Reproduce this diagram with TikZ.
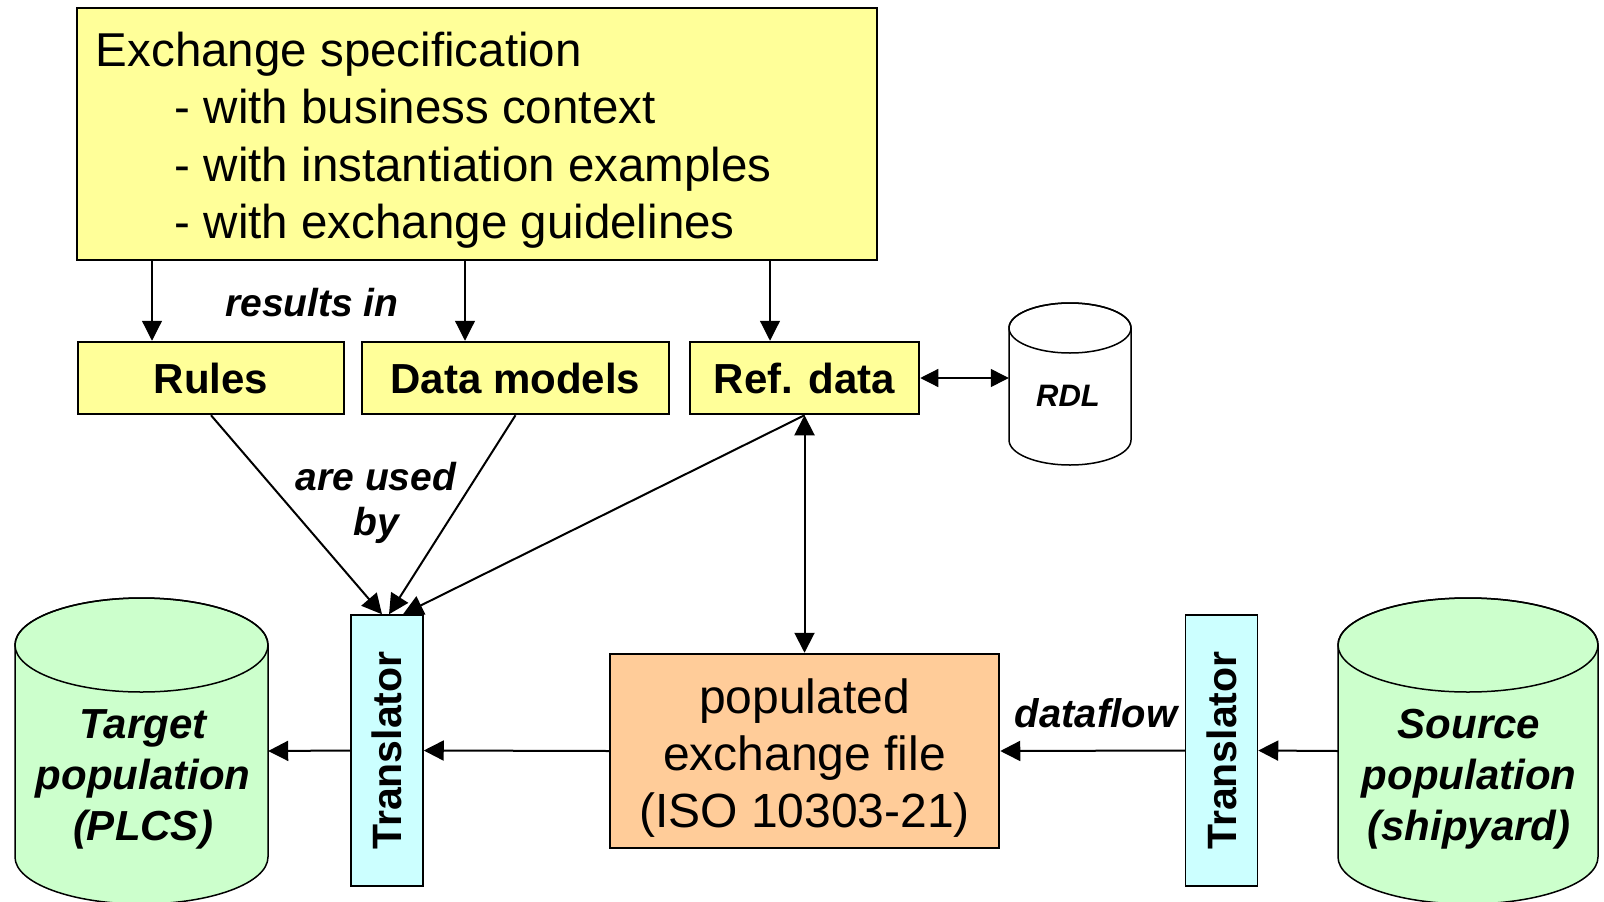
\documentclass[tikz,border=0pt]{standalone}
\usepackage{fontspec}
\setmainfont{Liberation Sans}
\usetikzlibrary{arrows.meta,calc}

\definecolor{specyellow}{HTML}{FFFF99}
\definecolor{transcyan}{HTML}{CCFFFF}
\definecolor{popgreen}{HTML}{CCFFCC}
\definecolor{fileorange}{HTML}{FFCC99}

\newcommand{\fsz}[2]{\fontsize{#1}{#2}\selectfont}

% cylinder: centre x, top-ellipse y, bottom-ellipse y, x radius, y radius, fill
\newcommand{\drawcyl}[6]{%
  \filldraw[fill=#6, line width=1.5pt]
    (#1-#4,#2) -- (#1-#4,#3)
    arc[start angle=180, end angle=360, x radius=#4pt, y radius=#5pt]
    -- (#1+#4,#2)
    arc[start angle=0, end angle=180, x radius=#4pt, y radius=#5pt] -- cycle;
  \draw[line width=1.5pt] (#1,#2) ellipse[x radius=#4pt, y radius=#5pt];}

\tikzset{
  ybox/.style={draw, fill=specyellow, line width=2.5pt, inner sep=0pt,
               font=\bfseries\fsz{42}{50}},
  tbox/.style={draw, fill=transcyan, line width=1.5pt, inner sep=0pt,
               minimum width=72pt, minimum height=271pt,
               font=\bfseries\fsz{41}{49}},
  obox/.style={draw, fill=fileorange, line width=2.5pt, inner sep=0pt},
  boxtext/.style={align=center, inner sep=0pt, font=\fsz{48}{57}},
  bodyanchor/.style={inner sep=0pt, draw=none},
  cyllabel/.style={align=center, inner sep=0pt, font=\bfseries\itshape\fsz{42}{51}},
  edgelabel/.style={align=center, inner sep=0pt, font=\bfseries\itshape\fsz{39}{45}},
  arr/.style={-{Triangle[length=20pt,width=20pt]}, line width=2pt},
  thinarr/.style={-{Triangle[length=20pt,width=20pt]}, line width=1.2pt},
  dblarr/.style={{Triangle[length=20pt,width=20pt]}-{Triangle[length=20pt,width=20pt]}, line width=2pt},
  thindbl/.style={{Triangle[length=18pt,width=18pt]}-{Triangle[length=18pt,width=18pt]}, line width=1.2pt},
}

\begin{document}
\begin{tikzpicture}[x=1pt, y=-1pt]
\useasboundingbox[fill=white] (0,0) rectangle (1604,902);

% exchange specification
\node[draw, fill=specyellow, line width=2.5pt, minimum width=800pt, minimum height=252pt,
      inner sep=0pt] (spec) at (477,134) {};
\node[anchor=west, align=left, inner sep=0pt, font=\fsz{47.5}{57.5}] (spectxt)
  at ($(spec.west)+(20,6)$)
  {Exchange specification\\
   \hspace*{79pt}- with business context\\
   \hspace*{79pt}- with instantiation examples\\
   \hspace*{79pt}- with exchange guidelines};

% results
\node[ybox, minimum width=266pt, minimum height=72pt] (rules) at (211,378) {Rules};
\node[ybox, minimum width=307pt, minimum height=72pt] (models) at (515.5,378) {Data models};
\node[ybox, minimum width=229pt, minimum height=72pt] (refdata) at (804.5,378) {Ref. data};

% reference data library
\drawcyl{1070}{328}{440}{61}{25}{white}
\node[bodyanchor, minimum width=122pt, minimum height=112pt] (rdl) at (1070,384) {};
\node[inner sep=0pt, font=\bfseries\itshape\fsz{31}{37}] (rdltxt) at (1068,396) {RDL};

% populations
\drawcyl{141.5}{645}{857}{126.5}{47}{popgreen}
\node[bodyanchor, minimum width=253pt, minimum height=212pt] (target) at (141.5,751) {};
\node[cyllabel] (targettxt) at (143,779) {Target\\population\\(PLCS)};

\drawcyl{1468}{645}{857}{130}{47}{popgreen}
\node[bodyanchor, minimum width=260pt, minimum height=212pt] (source) at (1468,751) {};
\node[cyllabel] (sourcetxt) at (1469,779) {Source\\population\\(shipyard)};

% translators and exchange file
\node[tbox] (tl) at (387,750.5) {\rotatebox{90}{Translator}};
\node[tbox] (tr) at (1221.5,750.5) {\rotatebox{90}{Translator}};
\node[obox, minimum width=389pt, minimum height=194pt] (pop) at (804.5,751) {};
\node[boxtext] (poptxt) at (804.5,758) {populated\\exchange file\\(ISO 10303-21)};

% labels
\node[edgelabel] (lres) at (312,303) {results in};
\node[edgelabel] (lused) at (376,503) {are used\\by};
\node[edgelabel, font=\bfseries\itshape\fsz{40}{45}] (lflow) at (1096,713) {dataflow};

% connectors
\coordinate (xr) at (152,0);
\coordinate (xm) at (465,0);
\coordinate (xd) at (770,0);
\draw[thinarr] (spec.south -| xr) -- (rules.north -| xr);
\draw[thinarr] (spec.south -| xm) -- (models.north -| xm);
\draw[thinarr] (spec.south -| xd) -- (refdata.north -| xd);

\draw[thindbl] (refdata.east) -- (rdl.west |- refdata.east);

\draw[arr] (rules.south) -- ($(tl.north)+(-5,0)$);
\draw[arr] (models.south) -- ($(tl.north)+(2,0)$);
\draw[arr] (refdata.south) -- ($(tl.north)+(16,0)$);

\draw[dblarr] (refdata.south) -- (pop.north);

\draw[arr] (pop.west) -- (tl.east);
\draw[arr] (tl.west) -- (target.east);
\draw[arr] (tr.west) -- (pop.east);
\draw[arr] (source.west) -- (tr.east);
\end{tikzpicture}
\end{document}
